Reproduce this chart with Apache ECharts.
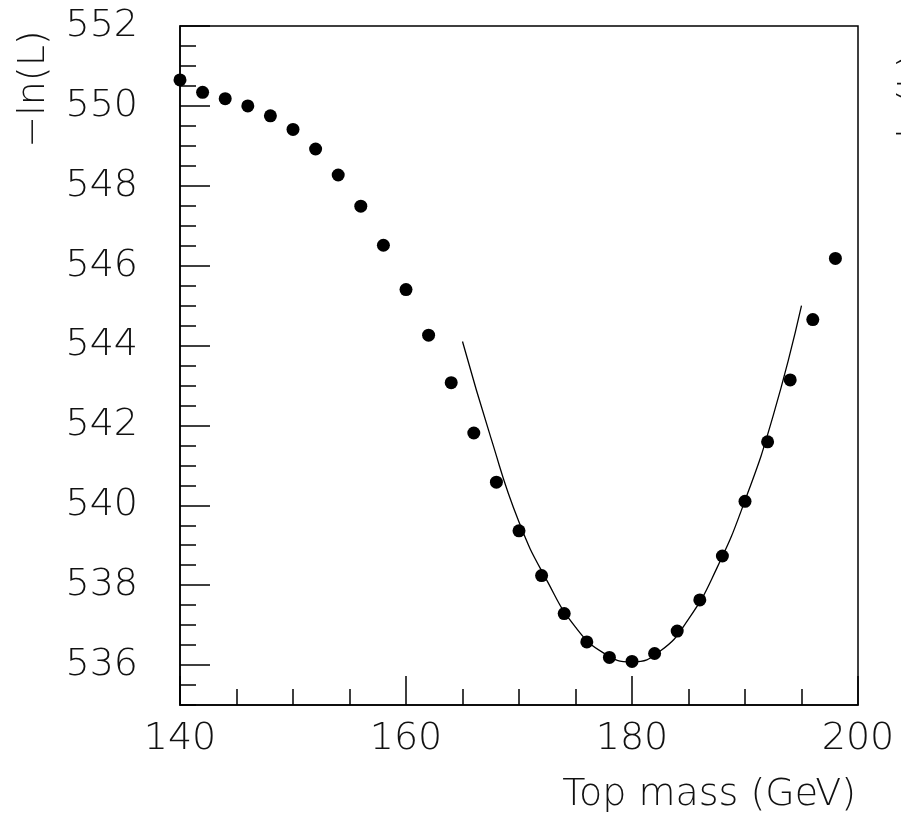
<!DOCTYPE html>
<html>
<head>
<meta charset="utf-8">
<script src="https://cdn.jsdelivr.net/npm/echarts@6/dist/echarts.min.js"></script>
<style>
html,body{margin:0;padding:0;background:#fff;}
#chart{width:901px;height:820px;}
</style>
</head>
<body>
<div id="chart"></div>
<script>
// Data
var massPoints = [140,142,144,146,148,150,152,154,156,158,160,162,164,166,168,170,172,174,176,178,180,182,184,186,188,190,192,194,196,198];
var nllValues = [550.65,550.34,550.18,550.00,549.75,549.41,548.92,548.27,547.49,546.51,545.40,544.26,543.07,541.81,540.58,539.36,538.24,537.29,536.58,536.19,536.09,536.29,536.85,537.63,538.73,540.10,541.59,543.14,544.65,546.18];
var fitMass = [165,167.5,170,172.5,175,177.5,180,182.5,185,187.5,190,192.5,195];
var fitValues = [544.10,541.70,539.58,538.10,536.95,536.30,536.08,536.35,537.15,538.42,540.12,542.25,545.00];
var yMajorTicks = [536,538,540,542,544,546,548,550,552];
var xTitle = 'Top mass (GeV)';
var yTitle = '\u2212ln(L)';

var FONT = "'DejaVu Sans', sans-serif";
var chart = echarts.init(document.getElementById('chart'), null, {renderer:'canvas'});

function pairs(xs, ys){ return xs.map(function(x,i){ return [x, ys[i]]; }); }

chart.setOption({
  animation:false,
  backgroundColor:'#fff',
  grid:{left:180, top:26, width:678, height:679, show:true, borderColor:'#000', borderWidth:1.5, backgroundColor:'transparent'},
  xAxis:{
    type:'value', min:140, max:200, interval:20,
    axisLine:{show:true, lineStyle:{color:'#000', width:1.5}},
    axisTick:{show:true, inside:true, length:29, lineStyle:{color:'#000', width:1.5}},
    minorTick:{show:true, splitNumber:4, length:16, lineStyle:{color:'#000', width:1.5}},
    splitLine:{show:false},
    axisLabel:{fontFamily:FONT, fontSize:38, fontWeight:200, color:'#111', margin:15}
  },
  yAxis:[{
    type:'value', min:535, max:552, position:'left',
    axisLine:{show:true, lineStyle:{color:'#000', width:1.5}},
    axisTick:{show:true, inside:true, length:30, customValues:yMajorTicks, lineStyle:{color:'#000', width:1.5}},
    splitLine:{show:false},
    axisLabel:{customValues:yMajorTicks, fontFamily:FONT, fontSize:38, fontWeight:200, color:'#111', margin:42}
  },{
    type:'value', min:535, max:552, interval:0.5, position:'left', offset:0,
    axisLine:{show:false},
    axisTick:{show:true, inside:true, length:16, lineStyle:{color:'#000', width:1.5}},
    splitLine:{show:false},
    axisLabel:{show:false}
  }],
  graphic:[
    {type:'text', right:45, top:776, style:{text:xTitle, font:"200 38px "+FONT, fill:'#111'}},
    {type:'text', x:34, y:89, rotation:Math.PI/2, style:{text:yTitle, font:"200 38px "+FONT, fill:'#111', align:'center', verticalAlign:'middle'}},
    {type:'text', x:914, y:112, rotation:Math.PI/2, style:{text:yTitle, font:"200 38px "+FONT, fill:'#111', align:'center', verticalAlign:'middle'}}
  ],
  series:[
    {type:'line', data:pairs(fitMass, fitValues), smooth:true, showSymbol:false, symbol:'none',
     lineStyle:{color:'#000', width:1.3}, z:2},
    {type:'scatter', data:pairs(massPoints, nllValues), symbol:'circle', symbolSize:13,
     itemStyle:{color:'#000', opacity:1}, z:3, clip:false}
  ]
});
</script>
</body>
</html>
